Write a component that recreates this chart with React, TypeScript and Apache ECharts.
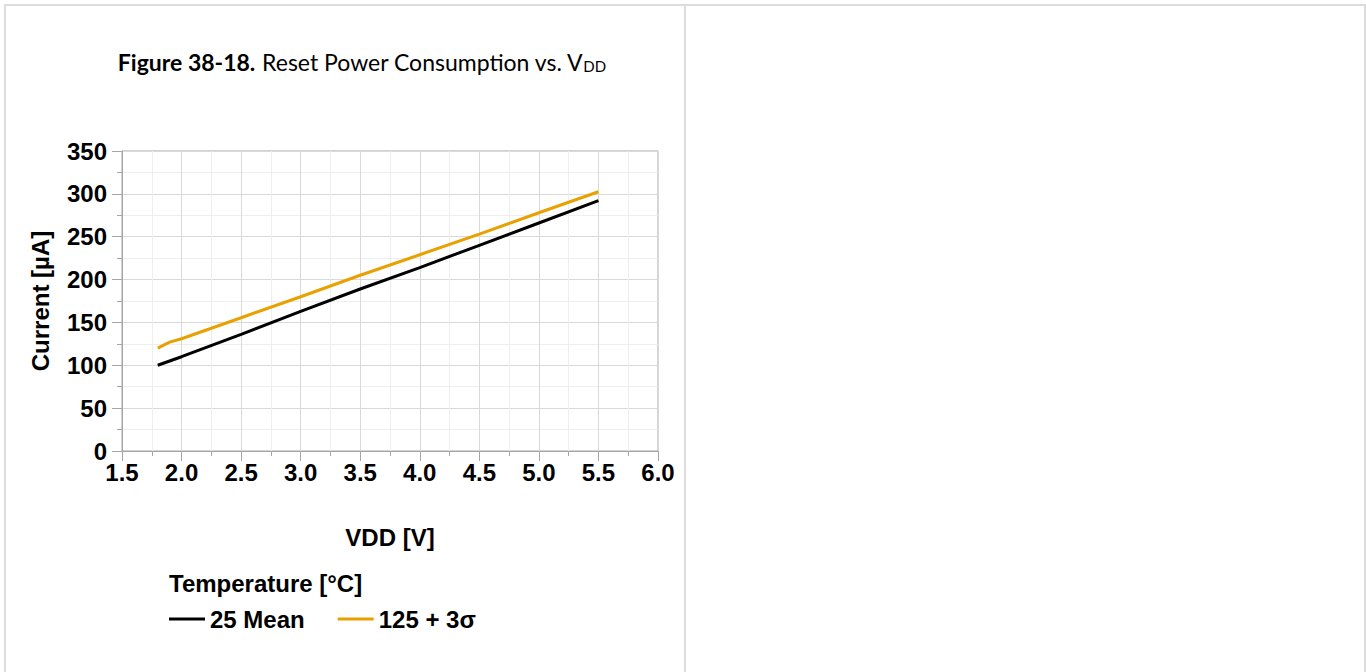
import React, { useEffect, useRef } from "react";
import * as echarts from "echarts";

const meanX = [1.8, 2.0, 2.5, 3.0, 3.5, 4.0, 4.5, 5.0, 5.5];
const meanY = [100, 110, 136, 163, 189, 214, 240, 266, 292];
const hotX = [1.8, 1.9, 2.0, 2.5, 3.0, 3.5, 4.0, 4.5, 5.0, 5.5];
const hotY = [120, 127, 131, 155.5, 180, 205, 229, 253, 278, 302.5];
const seriesNames = ["25 Mean", "125 + 3σ"];
const seriesColors = ["#000000", "#E8A100"];
const titleBold = "Figure 38-18.";
const titleRest = " Reset Power Consumption vs. V";
const titleSub = "DD";
const legendTitle = "Temperature [°C]";
const xName = "VDD [V]";
const yName = "Current [µA]";

const LABEL_FONT = "'Liberation Sans', Arial, sans-serif";

export default function App() {
  const ref = useRef<HTMLDivElement>(null);
  useEffect(() => {
    if (!ref.current) return;
    const chart = echarts.init(ref.current, undefined, { renderer: "svg" });
    const pair = (xs: number[], ys: number[]) => xs.map((x, i) => [x, ys[i]]);
    const axisLabelStyle = {
      color: "#000",
      fontFamily: LABEL_FONT,
      fontWeight: "bold" as const,
      fontSize: 24,
    };
    chart.setOption({
      animation: false,
      backgroundColor: "transparent",
      grid: {
        left: 122,
        right: 708,
        top: 151,
        bottom: 221,
        show: true,
        borderColor: "#a6a6a6",
        borderWidth: 1,
        backgroundColor: "transparent",
      },
      xAxis: {
        type: "value",
        min: 1.5,
        max: 6,
        interval: 0.5,
        name: xName,
        nameLocation: "middle",
        nameGap: 74,
        nameTextStyle: axisLabelStyle,
        axisLine: { show: true, lineStyle: { color: "#a6a6a6", width: 1 } },
        axisTick: { show: true, length: 10, lineStyle: { color: "#a6a6a6" } },
        minorTick: { show: true, splitNumber: 2, length: 5, lineStyle: { color: "#a6a6a6" } },
        splitLine: { show: true, lineStyle: { color: "#d9d9d9", width: 1 } },
        minorSplitLine: { show: true, lineStyle: { color: "#eeeeee", width: 1 } },
        axisLabel: {
          ...axisLabelStyle,
          margin: 9,
          formatter: (v: number) => v.toFixed(1),
        },
      },
      yAxis: {
        type: "value",
        min: 0,
        max: 350,
        interval: 50,
        name: yName,
        nameLocation: "middle",
        nameRotate: 90,
        nameGap: 70,
        nameTextStyle: axisLabelStyle,
        axisLine: { show: true, lineStyle: { color: "#a6a6a6", width: 1 } },
        axisTick: { show: true, length: 10, lineStyle: { color: "#a6a6a6" } },
        minorTick: { show: true, splitNumber: 2, length: 5, lineStyle: { color: "#a6a6a6" } },
        splitLine: { show: true, lineStyle: { color: "#d9d9d9", width: 1 } },
        minorSplitLine: { show: true, lineStyle: { color: "#eeeeee", width: 1 } },
        axisLabel: { ...axisLabelStyle, margin: 15 },
      },
      legend: {
        left: 169,
        top: 607,
        padding: 0,
        itemWidth: 36,
        itemHeight: 3,
        itemGap: 33,
        icon: "rect",
        textStyle: { ...axisLabelStyle },
        data: seriesNames,
      },
      graphic: [
        {
          type: "text",
          x: 362,
          y: 58,
          style: {
            x: 0,
            y: 0,
            align: "center",
            verticalAlign: "middle",
            text: `{b|${titleBold}}{n|${titleRest}}{s|${titleSub}}`,
            rich: {
              b: { fontFamily: "Lato", fontWeight: "bold", fontSize: 23, lineHeight: 30, fill: "#000", verticalAlign: "bottom" },
              n: { fontFamily: "Lato", fontSize: 23, lineHeight: 30, fill: "#000", verticalAlign: "bottom" },
              s: { fontFamily: "Lato", fontSize: 15, lineHeight: 13, fill: "#000", verticalAlign: "bottom" },
            },
          },
        },
        {
          type: "text",
          x: 169,
          y: 583,
          style: {
            text: legendTitle,
            fill: "#000",
            font: `bold 24px ${LABEL_FONT}`,
            verticalAlign: "middle",
          },
        },
      ],
      series: [
        {
          name: seriesNames[0],
          type: "line",
          data: pair(meanX, meanY),
          showSymbol: false,
          lineStyle: { color: seriesColors[0], width: 3 },
          itemStyle: { color: seriesColors[0] },
        },
        {
          name: seriesNames[1],
          type: "line",
          data: pair(hotX, hotY),
          showSymbol: false,
          lineStyle: { color: seriesColors[1], width: 3 },
          itemStyle: { color: seriesColors[1] },
        },
      ],
    });
    return () => chart.dispose();
  }, []);

  const panel: React.CSSProperties = {
    position: "absolute",
    top: 4,
    height: 720,
    boxSizing: "border-box",
    borderTop: "2px solid #dcdcdc",
    borderLeft: "2px solid #dcdcdc",
    borderRight: "2px solid #dcdcdc",
  };

  return (
    <div style={{ position: "fixed", left: 0, top: 0, width: 1366, height: 672, background: "#fff", overflow: "hidden" }}>
      <div style={{ ...panel, left: 4, width: 682 }} />
      <div style={{ ...panel, left: 684, width: 682 }} />
      <div ref={ref} style={{ position: "absolute", left: 0, top: 0, width: 1366, height: 672 }} />
    </div>
  );
}
